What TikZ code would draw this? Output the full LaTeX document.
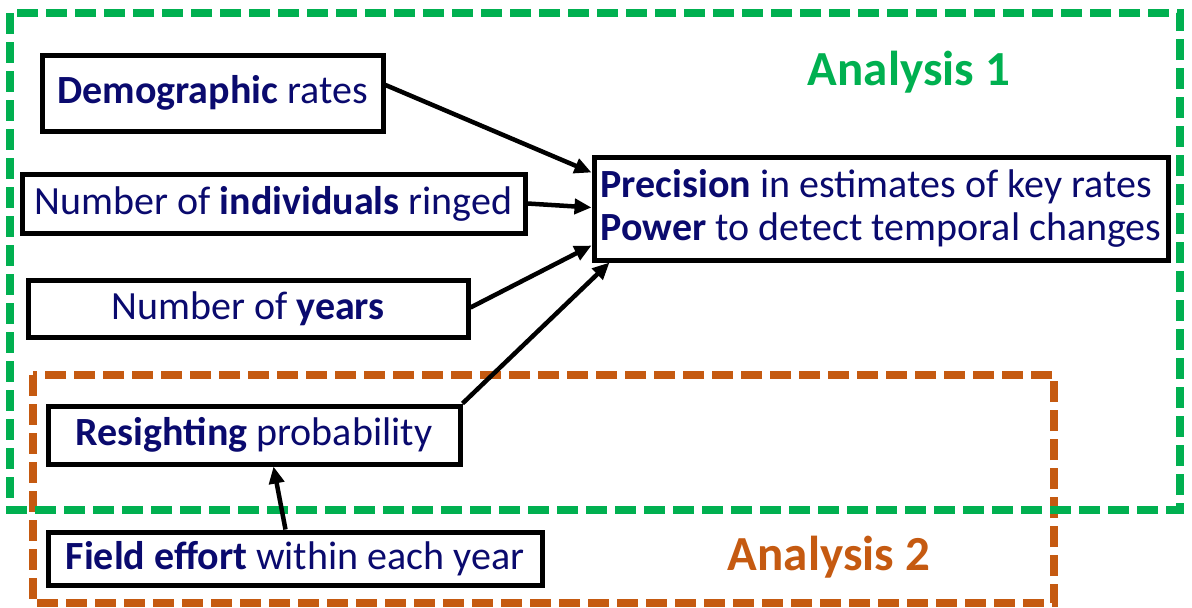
\documentclass[tikz,border=0pt]{standalone}
\usepackage{fontspec}
\setmainfont{Carlito}
\usetikzlibrary{arrows.meta,calc}
\definecolor{navy}{RGB}{10,10,110}
\definecolor{grn}{RGB}{0,176,80}
\definecolor{org}{RGB}{197,90,17}
\tikzset{
  box/.style={draw=black,line width=5pt,fill=white,text=navy,inner sep=0pt,
    font=\fontsize{40}{43}\selectfont},
  arr/.style={line width=4.5pt,-{Triangle[length=17pt,width=15pt]}},
  region/.style={line width=7.5pt,dash pattern=on 21pt off 8pt},
}
\begin{document}
\begin{tikzpicture}[x=1pt,y=-1pt]
\useasboundingbox (0,0) rectangle (1192,608);
% regions
\draw[region,org] (33,375) rectangle (1054,603);
\draw[region,grn] (10,13) rectangle (1180,510);
\node[text=grn,font=\fontsize{49}{60}\selectfont\bfseries] (a1) at (909,72) {Analysis 1};
\node[text=org,font=\fontsize{49}{60}\selectfont\bfseries] (a2) at (829,557) {Analysis 2};
% boxes
\node[box,minimum width=341pt,minimum height=76pt] (demo) at (212.5,93) {\textbf{Demographic} rates};
\node[box,minimum width=503pt,minimum height=59pt] (ind) at (273.5,203.5) {Number of \textbf{individuals} ringed};
\node[box,minimum width=440pt,minimum height=57pt] (yrs) at (248,308.5) {Number of \textbf{years}};
\node[box,minimum width=412pt,minimum height=58pt] (res) at (254,435) {\textbf{Resighting} probability};
\node[box,minimum width=494pt,minimum height=53pt] (fld) at (295,558.5) {\textbf{Field effort} within each year};
\node[box,minimum width=574pt,minimum height=103pt,align=left] (prec) at (881,208.5)
  {\textbf{Precision} in estimates of key rates\\\textbf{Power} to detect temporal changes};
% arrows
\draw[arr] ($(demo.east)+(0,-8)$) -- ($(prec.west)+(0,-36)$);
\draw[arr] ($(ind.east)+(0,0)$) -- ($(prec.west)+(0,-1)$);
\draw[arr] ($(yrs.east)+(0,-1)$) -- ($(prec.west)+(0,37)$);
\draw[arr] (res.north east) -- ($(prec.south west)+(18,0)$);
\draw[arr] ($(fld.north west)+(240,0)$) -- ($(res.south west)+(228,0)$);
\end{tikzpicture}
\end{document}
